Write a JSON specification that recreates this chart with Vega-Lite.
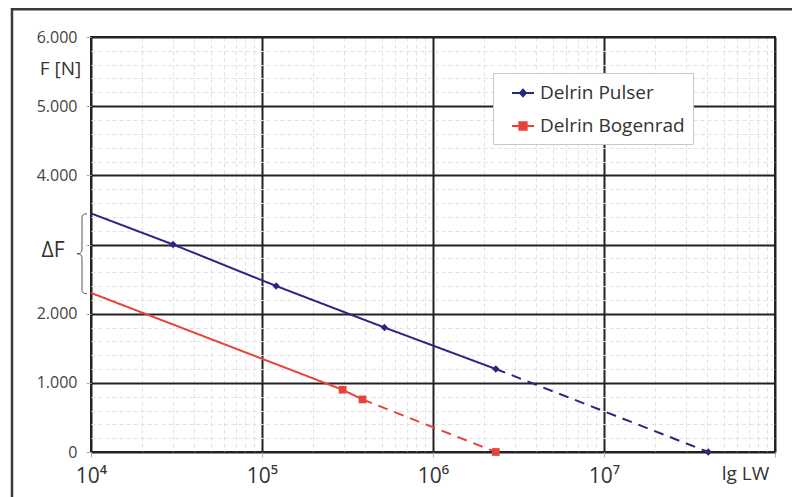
{
  "$schema": "https://vega.github.io/schema/vega-lite/v6.json",
  "width": 684,
  "height": 415,
  "autosize": {"type": "none"},
  "padding": {"left": 91, "top": 37, "right": 17, "bottom": 45},
  "background": "white",
  "config": {
    "view": {"stroke": "#222222", "strokeWidth": 2},
    "font": "Open Sans"
  },
  "datasets": {
    "series": [
      {"series": "Delrin Pulser", "seg": "solid", "x": 10000, "F": 3450, "m": 0},
      {"series": "Delrin Pulser", "seg": "solid", "x": 30200, "F": 3000, "m": 1},
      {"series": "Delrin Pulser", "seg": "solid", "x": 121000, "F": 2400, "m": 1},
      {"series": "Delrin Pulser", "seg": "solid", "x": 520000, "F": 1800, "m": 1},
      {"series": "Delrin Pulser", "seg": "solid", "x": 2330000, "F": 1200, "m": 1},
      {"series": "Delrin Pulser", "seg": "dashed", "x": 2330000, "F": 1200, "m": 0},
      {"series": "Delrin Pulser", "seg": "dashed", "x": 40700000, "F": 0, "m": 1},
      {"series": "Delrin Bogenrad", "seg": "solid", "x": 10000, "F": 2300, "m": 0},
      {"series": "Delrin Bogenrad", "seg": "solid", "x": 296000, "F": 900, "m": 1},
      {"series": "Delrin Bogenrad", "seg": "solid", "x": 387000, "F": 760, "m": 1},
      {"series": "Delrin Bogenrad", "seg": "dashed", "x": 387000, "F": 760, "m": 0},
      {"series": "Delrin Bogenrad", "seg": "dashed", "x": 2330000, "F": 0, "m": 1}
    ],
    "notes": [
      {"kind": "delta", "x": 6000, "F": 2900, "text": "ΔF"},
      {"kind": "brace", "x": 8857, "F": 2866, "text": ""}
    ],
    "frame": [
      {"x": 3451, "x2": 200000000, "F": 6400, "F2": -2000}
    ]
  },
  "encoding": {
    "x": {
      "field": "x",
      "type": "quantitative",
      "scale": {"type": "log", "domain": [10000, 100000000], "nice": false},
      "axis": {
        "values": [10000, 20000, 30000, 40000, 50000, 60000, 70000, 80000, 90000, 100000, 200000, 300000, 400000, 500000, 600000, 700000, 800000, 900000, 1000000, 2000000, 3000000, 4000000, 5000000, 6000000, 7000000, 8000000, 9000000, 10000000, 20000000, 30000000, 40000000, 50000000, 60000000, 70000000, 80000000, 90000000, 100000000],
        "domain": false,
        "grid": true,
        "gridColor": {"condition": {"test": "indexof([10000,100000,1000000,10000000,100000000], datum.value) >= 0", "value": "#222222"}, "value": "#e2e2e2"},
        "gridWidth": {"condition": {"test": "indexof([10000,100000,1000000,10000000,100000000], datum.value) >= 0", "value": 2}, "value": 1},
        "gridDash": {"condition": {"test": "indexof([10000,100000,1000000,10000000,100000000], datum.value) >= 0", "value": []}, "value": [4, 3]},
        "tickOpacity": {"condition": {"test": "indexof([10000,100000,1000000,10000000,100000000], datum.value) >= 0", "value": 1}, "value": 0},
        "tickColor": "#b0b0b0",
        "tickSize": 5,
        "labelPadding": 8,
        "labelExpr": "datum.value == 10000 ? '10⁴' : datum.value == 100000 ? '10⁵' : datum.value == 1000000 ? '10⁶' : datum.value == 10000000 ? '10⁷' : ''",
        "labelFontSize": 21,
        "labelColor": "#333333",
        "labelAlign": "center",
        "labelDx": 3,
        "labelOverlap": false,
        "labelFlush": false,
        "title": "lg LW",
        "titleX": 654,
        "titleY": 27,
        "titleAlign": "center",
        "titleBaseline": "alphabetic",
        "titleFontSize": 19,
        "titleFontWeight": "normal",
        "titleColor": "#333333"
      }
    },
    "y": {
      "field": "F",
      "type": "quantitative",
      "scale": {"domain": [0, 6000], "nice": false, "zero": false},
      "axis": {
        "values": [0, 200, 400, 600, 800, 1000, 1200, 1400, 1600, 1800, 2000, 2200, 2400, 2600, 2800, 3000, 3200, 3400, 3600, 3800, 4000, 4200, 4400, 4600, 4800, 5000, 5200, 5400, 5600, 5800, 6000],
        "domain": false,
        "grid": true,
        "gridColor": {"condition": {"test": "datum.value % 1000 == 0", "value": "#222222"}, "value": "#e2e2e2"},
        "gridWidth": {"condition": {"test": "datum.value % 1000 == 0", "value": 2}, "value": 1},
        "gridDash": {"condition": {"test": "datum.value % 1000 == 0", "value": []}, "value": [4, 3]},
        "tickOpacity": {"condition": {"test": "datum.value % 1000 == 0", "value": 1}, "value": 0},
        "tickColor": "#b0b0b0",
        "tickSize": 5,
        "labelPadding": 9,
        "labelExpr": "datum.value % 1000 == 0 && datum.value != 3000 ? replace(format(datum.value, ','), ',', '.') : ''",
        "labelFontSize": 16,
        "labelColor": "#444444",
        "labelOverlap": false,
        "labelFlush": false,
        "title": "F [N]",
        "titleAngle": 0,
        "titleX": -31,
        "titleY": 37,
        "titleAlign": "center",
        "titleBaseline": "alphabetic",
        "titleFontSize": 19,
        "titleFontWeight": "normal",
        "titleColor": "#333333"
      }
    }
  },
  "layer": [
    {
      "data": {"name": "frame"},
      "mark": {"type": "rect", "fillOpacity": 0, "stroke": "#3a3a3a", "strokeWidth": 2.5, "clip": false},
      "encoding": {
        "x2": {"field": "x2"},
        "y2": {"field": "F2"}
      }
    },
    {
      "data": {"name": "series"},
      "mark": {"type": "line", "strokeWidth": 2, "clip": false},
      "encoding": {
        "color": {
          "field": "series",
          "type": "nominal",
          "scale": {"domain": ["Delrin Pulser", "Delrin Bogenrad"], "range": ["#2A2680", "#E8433A"]},
          "legend": {
            "orient": "none",
            "legendX": 402,
            "legendY": 36,
            "title": null,
            "fillColor": "white",
            "strokeColor": "#c8c8c8",
            "padding": 8,
            "symbolSize": 484,
            "symbolStrokeWidth": 2,
            "symbolOffset": 10,
            "labelFontSize": 19,
            "labelColor": "#333333",
            "labelOffset": 5,
            "rowPadding": 11,
            "encode": {
              "symbols": {
                "update": {
                  "shape": {"signal": "datum.value == 'Delrin Pulser' ? 'M-1,0H1M0,-0.3L0.27,0L0,0.3L-0.27,0Z' : 'M-1,0H1M-0.33,-0.33H0.33V0.33H-0.33Z'"},
                  "size": {"value": 484},
                  "fill": {"signal": "datum.value == 'Delrin Pulser' ? '#2A2680' : '#E8433A'"},
                  "stroke": {"signal": "datum.value == 'Delrin Pulser' ? '#2A2680' : '#E8433A'"},
                  "strokeWidth": {"value": 2},
                  "fillOpacity": {"value": 1},
                  "opacity": {"value": 1},
                  "strokeDash": {"value": []}
                }
              }
            }
          }
        },
        "strokeDash": {
          "field": "seg",
          "type": "nominal",
          "scale": {"domain": ["solid", "dashed"], "range": [[1, 0], [10, 7]]},
          "legend": null
        }
      }
    },
    {
      "data": {"name": "series"},
      "transform": [{"filter": "datum.m == 1 && datum.series == 'Delrin Pulser'"}],
      "mark": {"type": "point", "shape": "diamond", "size": 55, "filled": true, "opacity": 1, "clip": false},
      "encoding": {
        "color": {"field": "series", "type": "nominal"}
      }
    },
    {
      "data": {"name": "series"},
      "transform": [{"filter": "datum.m == 1 && datum.series == 'Delrin Bogenrad'"}],
      "mark": {"type": "point", "shape": "square", "size": 60, "filled": true, "opacity": 1, "clip": false},
      "encoding": {
        "color": {"field": "series", "type": "nominal"}
      }
    },
    {
      "data": {"name": "notes"},
      "transform": [{"filter": "datum.kind == 'brace'"}],
      "mark": {
        "type": "point",
        "shape": "M0.125,-1Q0,-1 0,-0.9L0,-0.1Q0,0 -0.125,0Q0,0 0,0.1L0,0.9Q0,1 0.125,1",
        "size": 6400,
        "filled": false,
        "stroke": "#555555",
        "strokeWidth": 1,
        "opacity": 1,
        "clip": false
      },
      "encoding": {}
    },
    {
      "data": {"name": "notes"},
      "transform": [{"filter": "datum.kind == 'delta'"}],
      "mark": {"type": "text", "fontSize": 21, "color": "#333333", "align": "center", "baseline": "middle", "clip": false},
      "encoding": {
        "text": {"field": "text"}
      }
    }
  ]
}
